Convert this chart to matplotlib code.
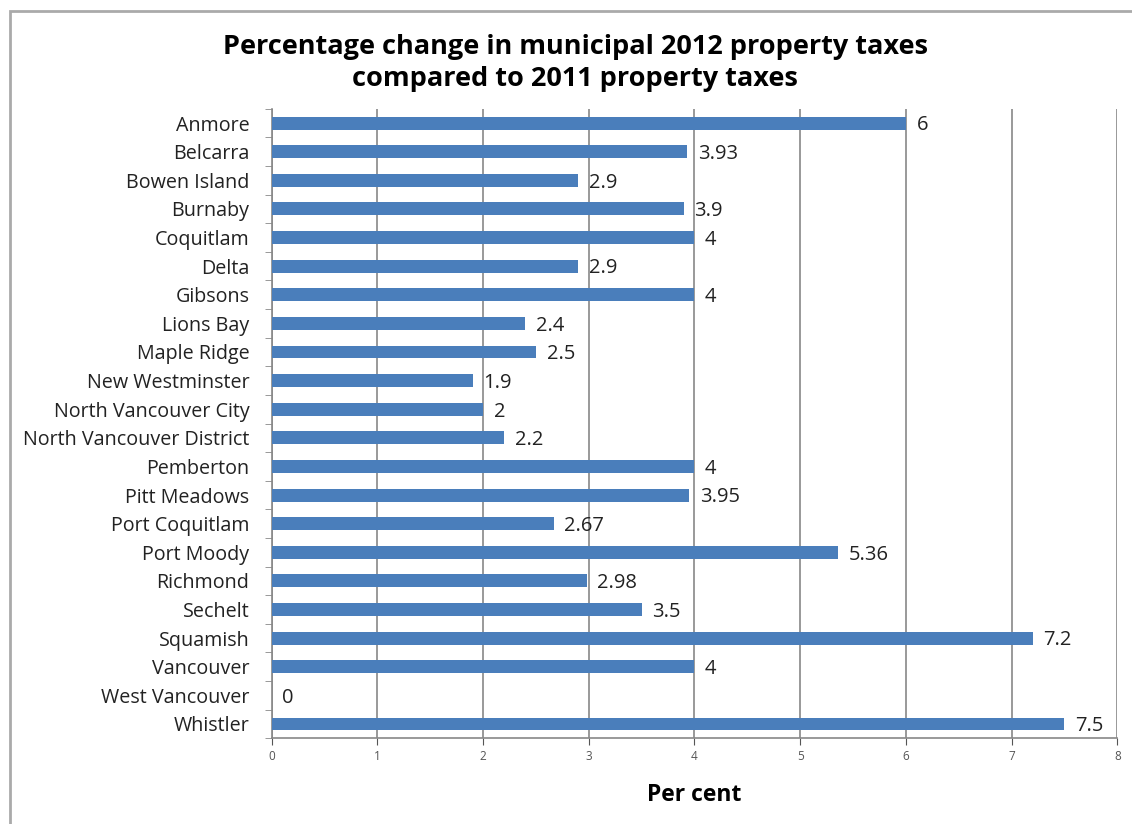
import matplotlib.pyplot as plt
import numpy as np
from matplotlib.patches import Rectangle

plt.rcParams['font.family'] = ['Open Sans', 'DejaVu Sans']

# данные
municipalities = ['Anmore', 'Belcarra', 'Bowen Island', 'Burnaby', 'Coquitlam', 'Delta',
                  'Gibsons', 'Lions Bay', 'Maple Ridge', 'New Westminster',
                  'North Vancouver City', 'North Vancouver District', 'Pemberton',
                  'Pitt Meadows', 'Port Coquitlam', 'Port Moody', 'Richmond', 'Sechelt',
                  'Squamish', 'Vancouver', 'West Vancouver', 'Whistler']
changes = [6, 3.93, 2.9, 3.9, 4, 2.9, 4, 2.4, 2.5, 1.9, 2, 2.2, 4, 3.95, 2.67, 5.36,
           2.98, 3.5, 7.2, 4, 0, 7.5]
labels = ['6', '3.93', '2.9', '3.9', '4', '2.9', '4', '2.4', '2.5', '1.9', '2', '2.2',
          '4', '3.95', '2.67', '5.36', '2.98', '3.5', '7.2', '4', '0', '7.5']

fig = plt.figure(figsize=(11.32, 8.24), dpi=100)
ax = fig.add_axes([0.240, 0.104, 0.747, 0.764])

y = np.arange(len(municipalities))
ax.barh(y, changes, height=0.45, color='#4a7ebb', zorder=3)
ax.set_ylim(len(municipalities) - 0.5, -0.5)
ax.set_xlim(0, 8)

ax.set_yticks(y)
ax.set_yticklabels(municipalities, fontsize=14.2, color='#222222')
ax.set_yticks(np.arange(-0.5, len(municipalities)), minor=True)
ax.tick_params(axis='y', which='major', length=0, pad=16)
ax.tick_params(axis='y', which='minor', length=5, color='#888888', direction='out')

ax.set_xticks(range(9))
ax.tick_params(axis='x', labelsize=8.5, colors='#555555', length=5, direction='out')
ax.xaxis.grid(True, color='#888888', linewidth=1.2, zorder=0)

for s in ['top', 'right']:
    ax.spines[s].set_visible(False)
for s in ['left', 'bottom']:
    ax.spines[s].set_color('#888888')
    ax.spines[s].set_linewidth(1.2)

for yi, v, lab in zip(y, changes, labels):
    ax.text(v + 0.1, yi + 0.08, lab, va='center', ha='left', fontsize=14.5, color='#222222', zorder=4)

ax.set_xlabel('Per cent', fontsize=16.5, fontweight='bold', labelpad=14)
fig.text(0.508, 0.923, 'Percentage change in municipal 2012 property taxes\ncompared to 2011 property taxes',
         ha='center', va='center', fontsize=19.5, fontweight='bold', linespacing=1.3)

# рамка
fig.patches.append(Rectangle((10 / 1132, -0.1), 1.2, 1 - 11 / 824 + 0.1, transform=fig.transFigure,
                             fill=False, edgecolor='#aaaaaa', linewidth=2))

fig.savefig('out.png', dpi=100)
